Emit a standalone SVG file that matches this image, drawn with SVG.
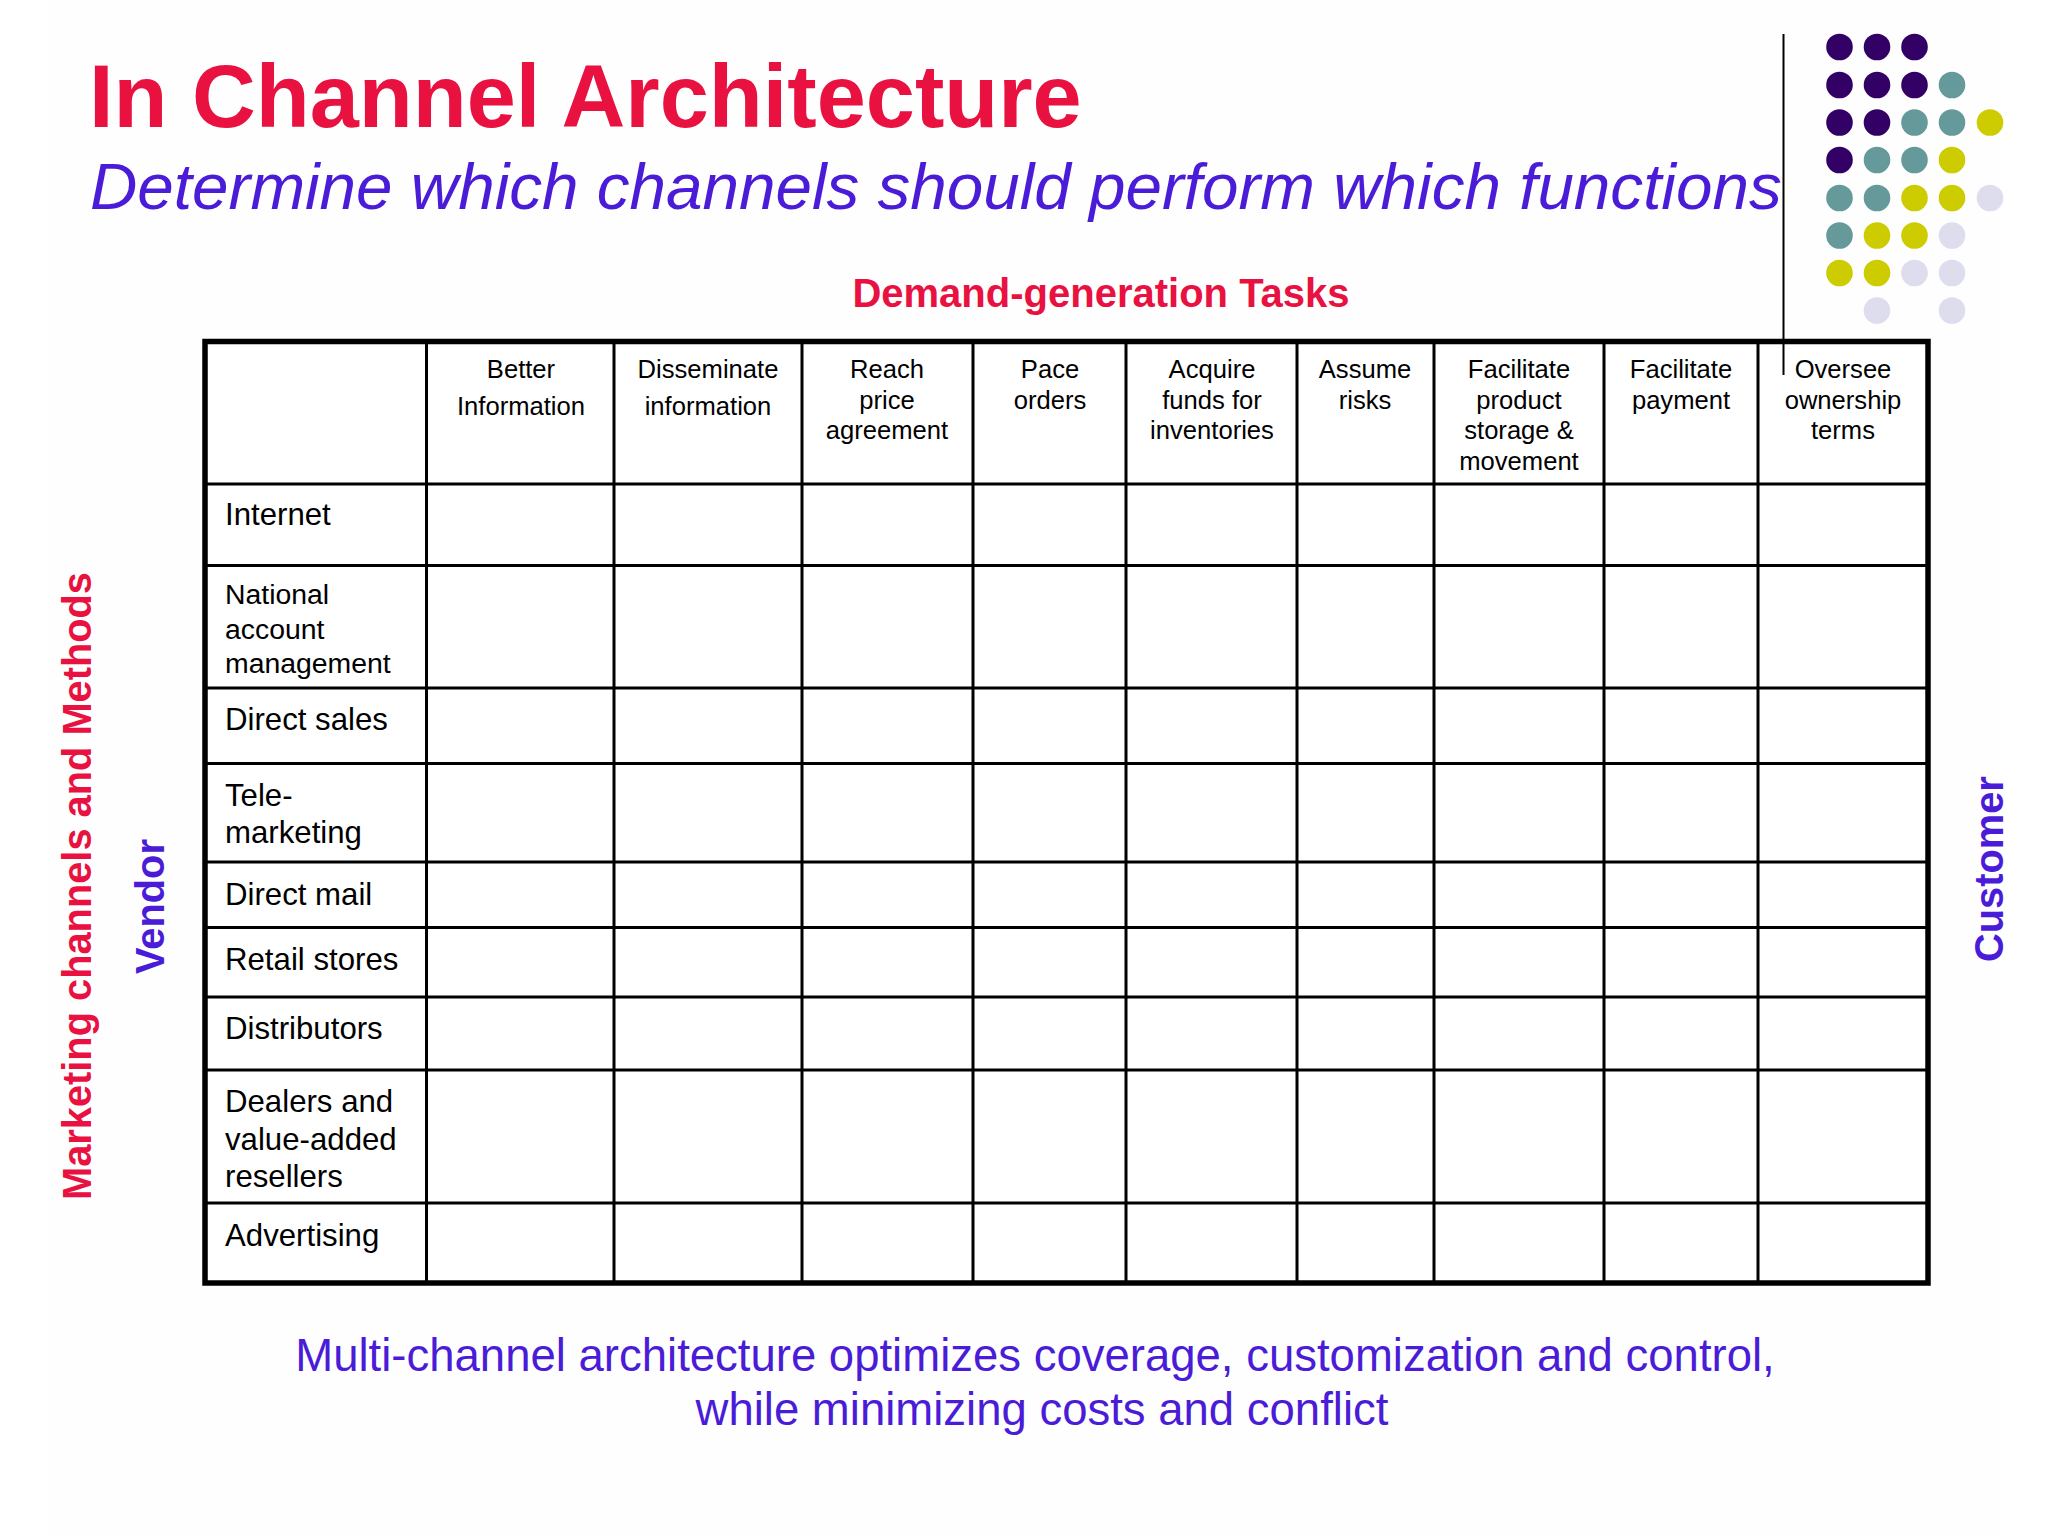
<svg xmlns="http://www.w3.org/2000/svg" width="2048" height="1536" viewBox="0 0 2048 1536">
<style>
text{font-family:"Liberation Sans",Arial,sans-serif}
.h{font-size:25.6px;text-anchor:middle;fill:#000}
.r{font-size:31.2px;fill:#000}
.s{font-size:28.400px}
.red{fill:#e8113f;font-weight:bold}
.blue{fill:#4a1cd8}
.b{font-weight:bold;font-size:39.800px}
.t{stroke:#000;stroke-width:3;fill:none}
.o{stroke:#000;stroke-width:5.500;fill:none}
.p{fill:#330066}.g{fill:#669999}.y{fill:#cccc00}.l{fill:#ddddee}
</style>
<rect width="2048" height="1536" fill="#fff"/>
<rect x="48" y="0" width="1952" height="1536" fill="#fefeff"/>
<g id="title">
<text x="89" y="127" class="red" font-size="88.300">In Channel Architecture</text>
<text x="90" y="209" class="blue" font-size="65.600" font-style="italic">Determine which channels should perform which functions</text>
<text x="1101" y="307" class="red" text-anchor="middle" font-size="40">Demand-generation Tasks</text>
</g>
<g id="dots">
<circle class="p" cx="1839.500" cy="47" r="13.3"/><circle class="p" cx="1877" cy="47" r="13.3"/><circle class="p" cx="1914.500" cy="47" r="13.3"/>
<circle class="p" cx="1839.500" cy="85" r="13.3"/><circle class="p" cx="1877" cy="85" r="13.3"/><circle class="p" cx="1914.500" cy="85" r="13.3"/><circle class="g" cx="1952" cy="85" r="13.3"/>
<circle class="p" cx="1839.500" cy="122.500" r="13.3"/><circle class="p" cx="1877" cy="122.500" r="13.3"/><circle class="g" cx="1914.500" cy="122.500" r="13.3"/><circle class="g" cx="1952" cy="122.500" r="13.3"/><circle class="y" cx="1990" cy="122.500" r="13.3"/>
<circle class="p" cx="1839.500" cy="160" r="13.3"/><circle class="g" cx="1877" cy="160" r="13.3"/><circle class="g" cx="1914.500" cy="160" r="13.3"/><circle class="y" cx="1952" cy="160" r="13.3"/>
<circle class="g" cx="1839.500" cy="198" r="13.3"/><circle class="g" cx="1877" cy="198" r="13.3"/><circle class="y" cx="1914.500" cy="198" r="13.3"/><circle class="y" cx="1952" cy="198" r="13.3"/><circle class="l" cx="1990" cy="198" r="13.3"/>
<circle class="g" cx="1839.500" cy="235.500" r="13.3"/><circle class="y" cx="1877" cy="235.500" r="13.3"/><circle class="y" cx="1914.500" cy="235.500" r="13.3"/><circle class="l" cx="1952" cy="235.500" r="13.3"/>
<circle class="y" cx="1839.500" cy="273" r="13.3"/><circle class="y" cx="1877" cy="273" r="13.3"/><circle class="l" cx="1914.500" cy="273" r="13.3"/><circle class="l" cx="1952" cy="273" r="13.3"/>
<circle class="l" cx="1877" cy="310.500" r="13.3"/><circle class="l" cx="1952" cy="310.500" r="13.3"/>
</g>
<g id="table">
<rect x="205" y="341.500" width="1723" height="941.500" fill="#fff"/>
<path class="t" d="M426.500 341V1283M614 341V1283M802 341V1283M973 341V1283M1126 341V1283M1297 341V1283M1434 341V1283M1604 341V1283M1758 341V1283"/>
<path class="t" d="M205 484H1928M205 565.500H1928M205 688H1928M205 763.500H1928M205 862H1928M205 927.500H1928M205 997H1928M205 1070H1928M205 1203H1928"/>
<rect class="o" x="205" y="341.500" width="1723" height="941.500"/>
</g>
<line id="rule" x1="1783.500" y1="34" x2="1783.500" y2="375" stroke="#000" stroke-width="2"/>
<g id="headers">
<text class="h" x="521" y="378">Better</text><text class="h" x="521" y="415">Information</text>
<text class="h" x="708" y="378">Disseminate</text><text class="h" x="708" y="415">information</text>
<text class="h" x="887" y="378">Reach</text><text class="h" x="887" y="409">price</text><text class="h" x="887" y="439">agreement</text>
<text class="h" x="1050" y="378">Pace</text><text class="h" x="1050" y="409">orders</text>
<text class="h" x="1212" y="378">Acquire</text><text class="h" x="1212" y="409">funds for</text><text class="h" x="1212" y="439">inventories</text>
<text class="h" x="1365" y="378">Assume</text><text class="h" x="1365" y="409">risks</text>
<text class="h" x="1519" y="378">Facilitate</text><text class="h" x="1519" y="409">product</text><text class="h" x="1519" y="439">storage &amp;</text><text class="h" x="1519" y="470">movement</text>
<text class="h" x="1681" y="378">Facilitate</text><text class="h" x="1681" y="409">payment</text>
<text class="h" x="1843" y="378">Oversee</text><text class="h" x="1843" y="409">ownership</text><text class="h" x="1843" y="439">terms</text>
</g>
<g id="rows">
<text class="r" x="225" y="525">Internet</text>
<text class="r s" x="225" y="604">National</text><text class="r s" x="225" y="639">account</text><text class="r s" x="225" y="673">management</text>
<text class="r" x="225" y="730">Direct sales</text>
<text class="r" x="225" y="806">Tele-</text><text class="r" x="225" y="843">marketing</text>
<text class="r" x="225" y="905">Direct mail</text>
<text class="r" x="225" y="970">Retail stores</text>
<text class="r" x="225" y="1039">Distributors</text>
<text class="r" x="225" y="1112">Dealers and</text><text class="r" x="225" y="1150">value-added</text><text class="r" x="225" y="1187">resellers</text>
<text class="r" x="225" y="1246">Advertising</text>
</g>
<g id="side">
<text class="red b" transform="translate(91 1200) rotate(-90)">Marketing channels and Methods</text>
<text class="blue b" transform="translate(164 974) rotate(-90)">Vendor</text>
<text class="blue b" transform="translate(2003 962) rotate(-90)">Customer</text>
</g>
<g id="footer">
<text class="blue" x="1035" y="1371" text-anchor="middle" font-size="45.500">Multi-channel architecture optimizes coverage, customization and control,</text>
<text class="blue" x="1042" y="1425" text-anchor="middle" font-size="45.500">while minimizing costs and conflict</text>
</g>
</svg>
